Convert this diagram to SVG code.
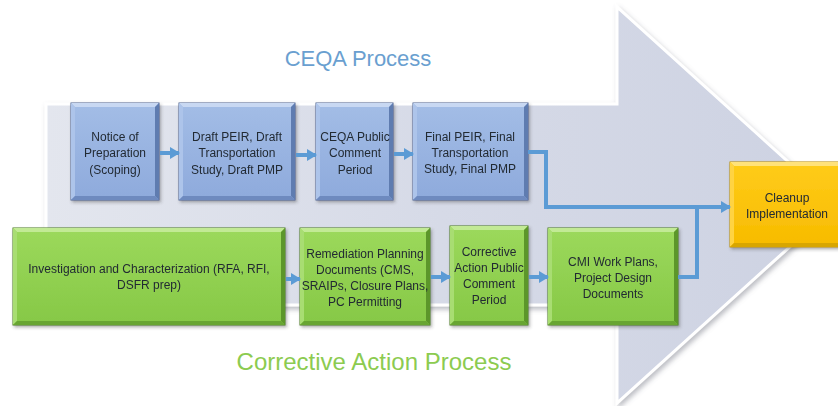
<svg xmlns="http://www.w3.org/2000/svg" width="838" height="406" viewBox="0 0 838 406">
<defs>
<linearGradient id="arrowFill" x1="0" y1="0" x2="1" y2="0">
<stop offset="0" stop-color="#e3e6ee"/>
<stop offset="0.5" stop-color="#d6dae7"/>
<stop offset="1" stop-color="#cdd2e2"/>
</linearGradient>
<linearGradient id="blueFill" x1="0" y1="0" x2="0" y2="1">
<stop offset="0" stop-color="#a3bde6"/>
<stop offset="1" stop-color="#8eaadc"/>
</linearGradient>
<linearGradient id="greenFill" x1="0" y1="0" x2="0" y2="1">
<stop offset="0" stop-color="#9cd95c"/>
<stop offset="1" stop-color="#86c846"/>
</linearGradient>
<linearGradient id="goldFill" x1="0" y1="0" x2="0" y2="1">
<stop offset="0" stop-color="#ffcc1a"/>
<stop offset="1" stop-color="#f7bb00"/>
</linearGradient>
<filter id="shadow" x="-10%" y="-10%" width="120%" height="130%">
<feDropShadow dx="2" dy="3" stdDeviation="2.5" flood-color="#6b6f7a" flood-opacity="0.45"/>
</filter>
<filter id="boxShadow" x="-10%" y="-10%" width="125%" height="130%">
<feDropShadow dx="1.5" dy="2" stdDeviation="1.5" flood-color="#404040" flood-opacity="0.4"/>
</filter>
<marker id="head" viewBox="0 0 10 10" refX="9" refY="5" markerWidth="10" markerHeight="12" markerUnits="userSpaceOnUse" orient="auto" preserveAspectRatio="none">
<path d="M0,0 L10,5 L0,10 Z" fill="#5b9bd5"/>
</marker>
</defs>
<style>
.lbl{font-family:"Liberation Sans",Arial,sans-serif;font-size:12px;fill:#222a33;text-anchor:middle}
.title{font-family:"Liberation Sans",Arial,sans-serif;font-size:22px;text-anchor:middle}
.b .m{fill:url(#blueFill);stroke:#4e6390;stroke-width:1}
.b .t{fill:#c8d8f2}.b .l{fill:#adc4ea}.b .r{fill:#5f7bb0}.b .bt{fill:#6e8abf}
.g .m{fill:url(#greenFill);stroke:#4b7a20;stroke-width:1}
.g .t{fill:#c2ea95}.g .l{fill:#a8dd72}.g .r{fill:#5c962a}.g .bt{fill:#68a532}
.y .m{fill:url(#goldFill);stroke:#b98e00;stroke-width:1}
.y .t{fill:#ffe27a}.y .l{fill:#ffd342}.y .r{fill:#c99800}.y .bt{fill:#d8a600}
.conn{fill:none;stroke:#5b9bd5;stroke-width:4;stroke-linejoin:miter}
</style>

<path d="M46,104 L617,104 L617,7 L836,205 L617,403 L617,305 L46,305 Z" fill="url(#arrowFill)" stroke="#ffffff" stroke-width="3" filter="url(#shadow)"/>

<text class="title" x="358" y="66" fill="#6a9fd0">CEQA Process</text>
<text class="title" x="374" y="370" fill="#8ccb50" style="font-size:24px">Corrective Action Process</text>

<g id="n1" class="b" filter="url(#boxShadow)">
<rect class="m" x="71" y="103" width="88" height="97"/>
<polygon class="t" points="71,103 159,103 155,107 75,107"/>
<polygon class="l" points="71,103 75,107 75,196 71,200"/>
<polygon class="r" points="159,103 159,200 155,196 155,107"/>
<polygon class="bt" points="71,200 159,200 155,196 75,196"/>
<text class="lbl" x="115" y="141">Notice of</text>
<text class="lbl" x="115" y="157">Preparation</text>
<text class="lbl" x="115" y="174">(Scoping)</text>
</g>

<g id="n2" class="b" filter="url(#boxShadow)">
<rect class="m" x="179" y="103" width="116" height="97"/>
<polygon class="t" points="179,103 295,103 291,107 183,107"/>
<polygon class="l" points="179,103 183,107 183,196 179,200"/>
<polygon class="r" points="295,103 295,200 291,196 291,107"/>
<polygon class="bt" points="179,200 295,200 291,196 183,196"/>
<text class="lbl" x="237" y="141">Draft PEIR, Draft</text>
<text class="lbl" x="237" y="157">Transportation</text>
<text class="lbl" x="237" y="174">Study, Draft PMP</text>
</g>

<g id="n3" class="b" filter="url(#boxShadow)">
<rect class="m" x="316" y="103" width="77" height="97"/>
<polygon class="t" points="316,103 393,103 389,107 320,107"/>
<polygon class="l" points="316,103 320,107 320,196 316,200"/>
<polygon class="r" points="393,103 393,200 389,196 389,107"/>
<polygon class="bt" points="316,200 393,200 389,196 320,196"/>
<text class="lbl" x="355" y="141">CEQA Public</text>
<text class="lbl" x="355" y="157">Comment</text>
<text class="lbl" x="355" y="174">Period</text>
</g>

<g id="n4" class="b" filter="url(#boxShadow)">
<rect class="m" x="413" y="103" width="115" height="97"/>
<polygon class="t" points="413,103 528,103 524,107 417,107"/>
<polygon class="l" points="413,103 417,107 417,196 413,200"/>
<polygon class="r" points="528,103 528,200 524,196 524,107"/>
<polygon class="bt" points="413,200 528,200 524,196 417,196"/>
<text class="lbl" x="470" y="141">Final PEIR, Final</text>
<text class="lbl" x="470" y="157">Transportation</text>
<text class="lbl" x="470" y="173">Study, Final PMP</text>
</g>

<g id="g1" class="g" filter="url(#boxShadow)">
<rect class="m" x="13" y="228" width="272" height="97"/>
<polygon class="t" points="13,228 285,228 281,232 17,232"/>
<polygon class="l" points="13,228 17,232 17,321 13,325"/>
<polygon class="r" points="285,228 285,325 281,321 281,232"/>
<polygon class="bt" points="13,325 285,325 281,321 17,321"/>
<text class="lbl" x="149" y="273">Investigation and Characterization (RFA, RFI,</text>
<text class="lbl" x="149" y="289">DSFR prep)</text>
</g>

<g id="g2" class="g" filter="url(#boxShadow)">
<rect class="m" x="300" y="228" width="130" height="97"/>
<polygon class="t" points="300,228 430,228 426,232 304,232"/>
<polygon class="l" points="300,228 304,232 304,321 300,325"/>
<polygon class="r" points="430,228 430,325 426,321 426,232"/>
<polygon class="bt" points="300,325 430,325 426,321 304,321"/>
<text class="lbl" x="365" y="258">Remediation Planning</text>
<text class="lbl" x="365" y="274">Documents (CMS,</text>
<text class="lbl" x="365" y="290">SRAIPs, Closure Plans,</text>
<text class="lbl" x="365" y="306">PC Permitting</text>
</g>

<g id="g3" class="g" filter="url(#boxShadow)">
<rect class="m" x="450" y="226" width="78" height="99"/>
<polygon class="t" points="450,226 528,226 524,230 454,230"/>
<polygon class="l" points="450,226 454,230 454,321 450,325"/>
<polygon class="r" points="528,226 528,325 524,321 524,230"/>
<polygon class="bt" points="450,325 528,325 524,321 454,321"/>
<text class="lbl" x="489" y="256">Corrective</text>
<text class="lbl" x="489" y="272">Action Public</text>
<text class="lbl" x="489" y="288">Comment</text>
<text class="lbl" x="489" y="304">Period</text>
</g>

<g id="g4" class="g" filter="url(#boxShadow)">
<rect class="m" x="548" y="228" width="130" height="97"/>
<polygon class="t" points="548,228 678,228 674,232 552,232"/>
<polygon class="l" points="548,228 552,232 552,321 548,325"/>
<polygon class="r" points="678,228 678,325 674,321 674,232"/>
<polygon class="bt" points="548,325 678,325 674,321 552,321"/>
<text class="lbl" x="613" y="266">CMI Work Plans,</text>
<text class="lbl" x="613" y="282">Project Design</text>
<text class="lbl" x="613" y="298">Documents</text>
</g>

<g id="cleanup" class="y" filter="url(#boxShadow)">
<rect class="m" x="730" y="162" width="112" height="85"/>
<polygon class="t" points="730,162 842,162 838,166 734,166"/>
<polygon class="l" points="730,162 734,166 734,243 730,247"/>
<polygon class="bt" points="730,247 842,247 838,243 734,243"/>
<text class="lbl" x="787" y="202">Cleanup</text>
<text class="lbl" x="787" y="218">Implementation</text>
</g>

<g id="connectors">
<path class="conn" d="M160,153 L179,153" marker-end="url(#head)"/>
<path class="conn" d="M296,155 L316,155" marker-end="url(#head)"/>
<path class="conn" d="M394,154 L413,154" marker-end="url(#head)"/>
<path class="conn" d="M528,152 L546,152 L546,207 L730,207" marker-end="url(#head)"/>
<path class="conn" d="M678,277 L697,277 L697,207"/>
<path class="conn" d="M286,279 L300,279" marker-end="url(#head)"/>
<path class="conn" d="M431,277 L450,277" marker-end="url(#head)"/>
<path class="conn" d="M529,277 L548,277" marker-end="url(#head)"/>
</g>
</svg>
